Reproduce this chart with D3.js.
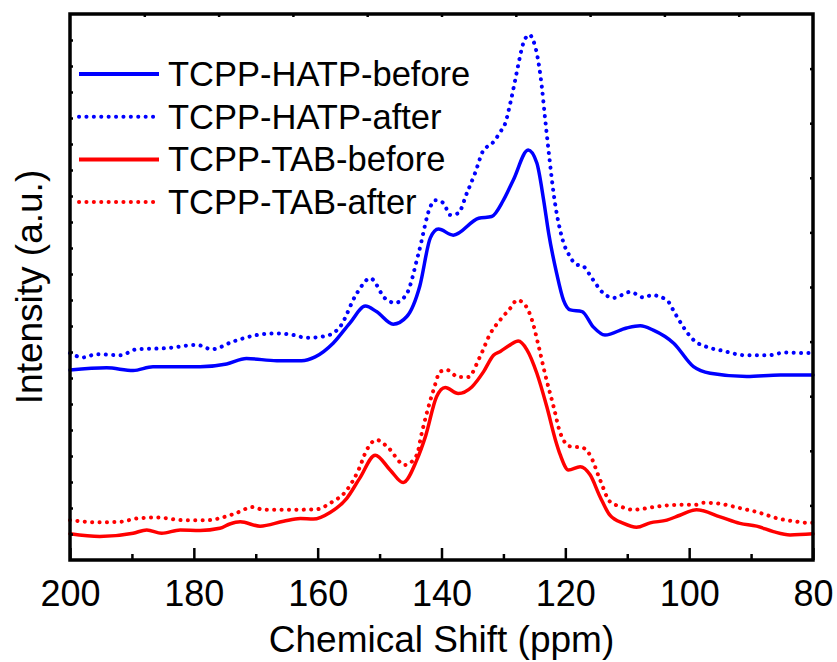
<!DOCTYPE html>
<html>
<head>
<meta charset="utf-8">
<script src="https://cdn.jsdelivr.net/npm/d3@7"></script>
<style>
  body { margin: 0; background: #fff; }
  svg text { font-family: "Liberation Sans", Arial, sans-serif; fill: #000; }
</style>
</head>
<body>
<div class="canvas"></div>
<script>
// chemical shift (ppm) / intensity (a.u.) pairs
const hatpBefore = [
  [200.0, 34.8], [194.1, 35.2], [189.8, 34.7], [186.6, 35.4], [179.0, 35.4], [174.7, 35.9],
  [171.5, 36.9], [166.6, 36.5], [162.6, 36.5], [160.4, 37.2], [157.5, 39.7], [154.8, 43.4],
  [152.3, 46.5], [150.5, 45.5], [147.8, 43.2], [145.6, 44.6], [143.5, 50.2], [141.8, 59.0],
  [140.5, 60.6], [138.1, 59.5], [134.0, 62.6], [131.9, 62.9], [130.0, 65.9], [128.4, 69.6],
  [126.0, 75.1], [124.6, 72.7], [123.5, 65.9], [122.7, 59.9], [121.4, 52.5], [120.3, 47.6],
  [119.2, 45.8], [117.3, 45.5], [115.5, 42.7], [113.6, 41.2], [110.1, 42.5], [107.9, 42.9],
  [105.8, 42.1], [102.5, 39.7], [99.3, 35.4], [96.6, 34.2], [90.7, 33.6], [85.3, 33.9], [80.0, 33.9]
]

const hatpAfter = [
  [200.0, 37.9], [197.9, 37.1], [195.7, 37.7], [191.9, 37.5], [189.2, 38.6], [184.4, 38.8],
  [179.5, 39.4], [177.1, 38.6], [173.7, 40.0], [169.8, 41.2], [166.6, 41.5], [163.9, 41.2],
  [161.8, 40.7], [158.8, 41.0], [156.4, 42.7], [153.7, 48.8], [151.5, 51.6], [149.1, 47.9],
  [147.5, 47.1], [145.6, 48.8], [143.7, 56.2], [141.8, 64.7], [141.0, 65.9], [139.7, 65.4],
  [138.6, 63.2], [137.3, 63.5], [135.9, 67.2], [134.6, 70.8], [133.2, 75.1], [131.9, 76.2],
  [130.5, 78.4], [129.7, 80.0], [128.9, 83.6], [128.1, 87.9], [127.6, 90.7], [126.8, 94.6],
  [125.8, 96.2], [125.2, 95.2], [124.5, 92.2], [123.8, 86.7], [123.3, 81.2], [122.6, 73.9],
  [121.9, 67.2], [120.4, 58.5], [119.2, 55.5], [118.4, 54.2], [117.1, 53.8], [115.7, 51.6],
  [113.8, 48.8], [112.2, 48.0], [109.5, 49.1], [107.4, 48.1], [106.0, 48.5], [103.6, 47.6],
  [102.3, 45.2], [100.9, 42.6], [99.3, 40.3], [97.1, 39.0], [94.5, 38.3], [91.0, 37.5],
  [87.2, 37.5], [84.5, 38.0], [81.0, 37.9], [80.0, 37.9]
]

const tabBefore = [
  [200.0, 4.8], [195.2, 4.3], [189.8, 4.9], [187.6, 5.5], [185.2, 4.9], [182.2, 5.5],
  [179.0, 5.4], [175.8, 5.8], [174.2, 6.6], [172.5, 7.0], [169.3, 6.2], [165.5, 7.1],
  [162.8, 7.6], [160.7, 7.5], [158.0, 8.7], [155.3, 11.3], [153.2, 15.0], [150.7, 19.2],
  [148.3, 16.5], [146.2, 14.2], [144.0, 18.3], [142.6, 22.6], [140.8, 29.9], [139.4, 31.6],
  [137.3, 30.5], [135.1, 31.7], [133.2, 34.5], [131.6, 37.5], [130.5, 38.2], [128.9, 39.4],
  [127.6, 40.1], [126.2, 38.5], [124.6, 34.2], [123.0, 28.1], [121.6, 22.0], [120.8, 19.2],
  [119.5, 16.5], [117.6, 17.1], [116.0, 15.6], [114.4, 11.6], [112.8, 8.2], [110.6, 6.7],
  [108.5, 6.0], [106.3, 6.8], [103.6, 7.3], [101.5, 8.2], [98.8, 9.2], [95.0, 7.9],
  [91.8, 6.7], [89.1, 6.2], [86.4, 5.2], [83.7, 4.6], [80.0, 4.8]
]

const tabAfter = [
  [200.0, 7.3], [195.2, 6.9], [191.9, 7.0], [189.2, 7.6], [186.0, 7.8], [181.7, 7.3],
  [177.9, 7.3], [173.6, 8.4], [170.4, 9.7], [168.8, 9.2], [164.5, 9.2], [160.1, 9.3],
  [158.0, 10.4], [155.3, 12.8], [153.4, 16.5], [152.1, 20.1], [150.5, 22.0], [148.8, 20.8],
  [145.9, 17.4], [144.0, 19.2], [143.2, 23.2], [141.3, 31.1], [140.2, 34.5], [139.1, 34.8],
  [137.3, 33.5], [135.7, 33.5], [133.8, 37.2], [132.1, 41.5], [130.5, 44.0], [128.9, 46.1],
  [127.8, 47.6], [126.5, 46.7], [125.4, 44.0], [124.3, 39.1], [123.3, 34.2], [121.9, 28.1],
  [120.8, 23.2], [119.2, 20.8], [117.3, 20.6], [116.0, 19.2], [114.4, 14.7], [112.8, 10.7],
  [111.1, 9.8], [109.0, 9.2], [105.2, 9.8], [102.0, 10.1], [99.0, 10.1], [97.7, 10.5],
  [95.0, 10.3], [91.8, 9.5], [89.1, 8.8], [85.3, 7.5], [83.1, 7.1], [80.7, 6.8], [80.0, 6.8]
]

const seriesNames = ['TCPP-HATP-before', 'TCPP-HATP-after', 'TCPP-TAB-before', 'TCPP-TAB-after']
const xTicks = [200, 180, 160, 140, 120, 100, 80]

const series = [
  { name: seriesNames[0], values: hatpBefore, colour: '#0000ff', dotted: false },
  { name: seriesNames[1], values: hatpAfter, colour: '#0000ff', dotted: true },
  { name: seriesNames[2], values: tabBefore, colour: '#ff0000', dotted: false },
  { name: seriesNames[3], values: tabAfter, colour: '#ff0000', dotted: true },
]

const dims = { width: 837, height: 662 }
const margin = { top: 14, right: 24, bottom: 102, left: 70 }
const innerW = dims.width - margin.left - margin.right
const innerH = dims.height - margin.top - margin.bottom

const svg = d3.select('.canvas')
  .append('svg')
  .attr('width', dims.width)
  .attr('height', dims.height)

const graph = svg.append('g')
  .attr('transform', `translate(${margin.left}, ${margin.top})`)

const x = d3.scaleLinear().domain([200, 80]).range([0, innerW])
const y = d3.scaleLinear().domain([0, 100]).range([innerH, 0])

const line = d3.line()
  .x(d => x(d[0]))
  .y(d => y(d[1]))
  .curve(d3.curveMonotoneX)

// spectra
graph.selectAll('path.spec')
  .data(series)
  .enter()
  .append('path')
  .attr('class', 'spec')
  .attr('d', d => line(d.values))
  .attr('fill', 'none')
  .attr('stroke', d => d.colour)
  .attr('stroke-width', d => d.dotted ? 4 : 3.5)
  .attr('stroke-linecap', 'round')
  .attr('stroke-linejoin', 'round')
  .attr('stroke-dasharray', d => d.dotted ? '0.1 7.3' : null)

// axes: major + minor ticks at bottom, small ones elsewhere (all pointing in)
const bottomMajor = d3.axisBottom(x).tickValues(xTicks).tickSize(-12).tickPadding(20).tickFormat(d3.format('d'))
const bottomMinor = d3.axisBottom(x).tickValues(d3.range(190, 80, -20)).tickSize(-6).tickFormat('')
const topAxis = d3.axisTop(x).tickValues(d3.range(188, 80, -12)).tickSize(-3).tickFormat('')
const leftAxis = d3.axisLeft(y).tickValues(d3.range(1, 21).map(i => i * 100 / 21)).tickSize(-3).tickFormat('')
const rightAxis = d3.axisRight(y).tickValues(d3.range(10, 100, 10)).tickSize(-3).tickFormat('')

const styleAxis = g => {
  g.select('.domain').remove()
  g.selectAll('line').attr('stroke', '#000').attr('stroke-width', 2.5)
}

graph.append('g').attr('transform', `translate(0, ${innerH})`).call(bottomMajor).call(styleAxis)
  .selectAll('text').attr('font-size', 36).attr('font-family', '"Liberation Sans", Arial, sans-serif')
graph.append('g').attr('transform', `translate(0, ${innerH})`).call(bottomMinor).call(styleAxis)
graph.append('g').call(topAxis).call(styleAxis)
graph.append('g').call(leftAxis).call(styleAxis)
graph.append('g').attr('transform', `translate(${innerW}, 0)`).call(rightAxis).call(styleAxis)

// frame
graph.append('rect')
  .attr('width', innerW)
  .attr('height', innerH)
  .attr('fill', 'none')
  .attr('stroke', '#000')
  .attr('stroke-width', 3.5)

// axis titles
svg.append('text')
  .attr('x', margin.left + innerW / 2)
  .attr('y', 652)
  .attr('text-anchor', 'middle')
  .attr('font-size', 37)
  .text('Chemical Shift (ppm)')

svg.append('text')
  .attr('transform', `translate(42, ${margin.top + innerH / 2}) rotate(-90)`)
  .attr('text-anchor', 'middle')
  .attr('font-size', 37)
  .text('Intensity (a.u.)')

// legend
const legend = svg.append('g').attr('transform', 'translate(79, 74)')
const items = legend.selectAll('g')
  .data(series)
  .enter()
  .append('g')
  .attr('transform', (d, i) => `translate(0, ${i * 42.7})`)

items.append('line')
  .attr('x1', 0).attr('x2', d => d.dotted ? 75 : 80)
  .attr('stroke', d => d.colour)
  .attr('stroke-width', 4)
  .attr('stroke-linecap', d => d.dotted ? 'round' : 'butt')
  .attr('stroke-dasharray', d => d.dotted ? '0.1 7.3' : null)

items.append('text')
  .attr('x', 89)
  .attr('y', 12)
  .attr('font-size', 34.5)
  .text(d => d.name)
</script>
</body>
</html>
